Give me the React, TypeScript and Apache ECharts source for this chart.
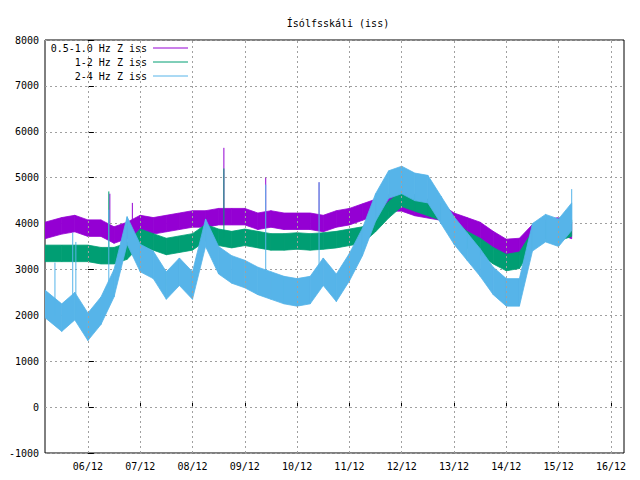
import { useEffect, useRef } from 'react'
import * as echarts from 'echarts'

// days counted from 06/12 00:00, one reading every 6 hours
const days = [
  -0.82, -0.5, -0.25, 0, 0.25, 0.5, 0.75, 1, 1.25, 1.5, 1.75, 2, 2.25, 2.5, 2.75, 3, 3.25, 3.5, 3.75, 4, 4.25,
  4.5, 4.75, 5, 5.25, 5.5, 5.75, 6, 6.25, 6.5, 6.75, 7, 7.25, 7.5, 7.75, 8, 8.25, 8.5, 8.75, 9, 9.25,
]

const purple = [
  3850, 3950, 4000, 3900, 3900, 3750, 3850, 4000, 3950, 4000, 4050, 4100, 4100, 4150, 4150, 4150, 4050, 4100, 4050,
  4050, 4050, 4000, 4100, 4150, 4250, 4350, 4450, 4450, 4350, 4300, 4250, 4050, 3950, 3850, 3650, 3480, 3500, 3800,
  3900, 3950, 3850,
]
const green = [
  3350, 3350, 3350, 3350, 3300, 3300, 3400, 3700, 3600, 3500, 3550, 3600, 3800, 3700, 3650, 3700, 3650, 3600, 3600,
  3620, 3600, 3620, 3650, 3700, 3750, 4000, 4300, 4550, 4450, 4350, 4250, 3900, 3650, 3500, 3300, 3150, 3200, 3650,
  3850, 3800, 3900,
]
const blue = [
  2250, 1950, 2200, 1750, 2100, 2700, 3850, 3250, 3100, 2650, 2950, 2650, 3800, 3200, 3000, 2900, 2750, 2650, 2550,
  2500, 2550, 2950, 2600, 3050, 3600, 4350, 4850, 4950, 4800, 4750, 4300, 3850, 3500, 3150, 2750, 2500, 2500, 3700,
  3900, 3800, 4150,
]
const halfWidth = [180, 180, 300]

// single spikes: [day, low, high]
const purpleSpikes = [
  [0.42, 4000, 4650],
  [0.85, 4000, 4450],
  [2.6, 4100, 5650],
  [3.4, 4100, 5000],
  [4.42, 4100, 4900],
]
const greenSpikes = [
  [0.4, 3400, 4700],
  [2.6, 3700, 5200],
]
const blueSpikes = [
  [-0.63, 2000, 3150],
  [-0.29, 2100, 3800],
  [-0.23, 2100, 3600],
  [0.4, 2500, 4300],
  [3.4, 2800, 4850],
  [4.42, 2900, 4900],
  [9.25, 4000, 4750],
]

const series = [
  { name: '0.5-1.0 Hz Z iss', color: '#9400d3', values: purple, spikes: purpleSpikes },
  { name: '1-2 Hz Z iss', color: '#009e73', values: green, spikes: greenSpikes },
  { name: '2-4 Hz Z iss', color: '#56b4e9', values: blue, spikes: blueSpikes },
]

const dayTicks = [0, 1, 2, 3, 4, 5, 6, 7, 8, 9, 10]
const font = 'DejaVu Sans Mono'

export default function App() {
  const ref = useRef<HTMLDivElement>(null)

  useEffect(() => {
    if (!ref.current) return
    const chart = echarts.init(ref.current, undefined, { renderer: 'svg' })

    const chartSeries: any[] = []
    series.forEach((s, i) => {
      const w = halfWidth[i]
      // band between low and high envelope, one quad per interval
      chartSeries.push({
        type: 'custom',
        silent: true,
        clip: true,
        data: days.slice(0, -1).map((d, k) => [d, s.values[k], days[k + 1], s.values[k + 1]]),
        renderItem: (_p: any, api: any) => {
          const x0 = api.value(0)
          const v0 = api.value(1)
          const x1 = api.value(2)
          const v1 = api.value(3)
          const pts = [
            api.coord([x0, v0 + w]),
            api.coord([x1, v1 + w]),
            api.coord([x1, v1 - w]),
            api.coord([x0, v0 - w]),
          ]
          return {
            type: 'polygon',
            shape: { points: pts },
            style: { fill: s.color, stroke: s.color, lineWidth: 0.8 },
          }
        },
      })
      const spikeData: any[] = []
      s.spikes.forEach(([d, lo, hi]) => {
        spikeData.push([d, lo], [d, hi], '-')
      })
      chartSeries.push({
        type: 'line',
        symbol: 'none',
        connectNulls: false,
        lineStyle: { color: s.color, width: 1 },
        data: spikeData,
        silent: true,
      })
    })
    // vertical grid lines
    chartSeries.push({
      type: 'line',
      data: [],
      markLine: {
        silent: true,
        symbol: 'none',
        label: { show: false },
        lineStyle: { color: '#a0a0a0', type: [2, 3], width: 1 },
        data: dayTicks.map((d) => ({ xAxis: d })),
      },
    })

    const legendGraphics: any[] = []
    series.forEach((s, i) => {
      const y = 48 + i * 14
      legendGraphics.push({
        type: 'text',
        x: 147,
        y,
        style: { text: s.name, font: `10px "${font}"`, fill: '#000', align: 'right', verticalAlign: 'middle' },
      })
      legendGraphics.push({
        type: 'line',
        shape: { x1: 153, y1: y, x2: 188, y2: y },
        style: { stroke: s.color, lineWidth: 1 },
      })
    })

    chart.setOption({
      animation: false,
      title: {
        text: 'Ísólfsskáli (iss)',
        left: 333,
        top: 13,
        textAlign: 'center',
        textStyle: { fontFamily: font, fontSize: 10, fontWeight: 'normal', color: '#000' },
      },
      grid: { left: 45, right: 16, top: 40, bottom: 27, show: true, borderColor: '#000', borderWidth: 1 },
      xAxis: {
        type: 'value',
        min: -0.82,
        max: 10.25,
        axisLine: { show: false },
        splitLine: { show: false },
        axisTick: { show: true, inside: true, length: 6, customValues: dayTicks, lineStyle: { color: '#000' } },
        axisLabel: {
          customValues: dayTicks,
          fontFamily: font,
          fontSize: 10,
          color: '#000',
          formatter: (v: number) => String(6 + v).padStart(2, '0') + '/12',
        },
      },
      yAxis: {
        type: 'value',
        min: -1000,
        max: 8000,
        interval: 1000,
        axisLine: { show: false },
        axisTick: { show: true, inside: true, length: 6, lineStyle: { color: '#000' } },
        axisLabel: { fontFamily: font, fontSize: 10, color: '#000', margin: 6, formatter: (v: number) => String(v) },
        splitLine: { lineStyle: { color: '#a0a0a0', type: [2, 3] } },
      },
      series: chartSeries,
      graphic: legendGraphics,
    })

    return () => chart.dispose()
  }, [])

  return <div ref={ref} style={{ width: 640, height: 480, margin: -8, background: '#fff' }} />
}
